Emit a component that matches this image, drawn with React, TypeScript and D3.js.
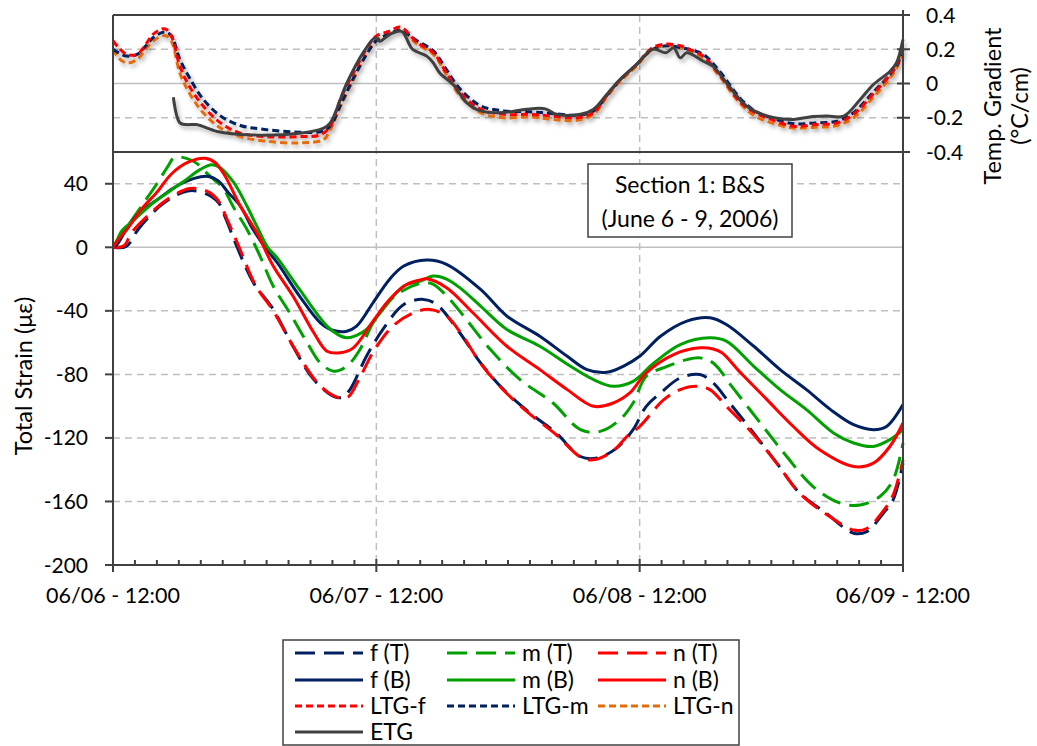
import React, { useEffect, useRef } from 'react';
import * as d3 from 'd3';

// hours after 06/06 12:00, strain (µε)
const fT = [[0,0],[1.2,0.5],[2.3,11.4],[3.5,20.8],[4.7,28.2],[6.8,35.5],[8.4,34],[9.6,28.2],[10.3,17.7],[11.2,2],[12.8,-22.3],[14.6,-39],[16.4,-62.3],[18.3,-83.3],[20.1,-93.8],[20.9,-94.5],[21.6,-89.6],[23.1,-68.6],[24.6,-51.7],[26.5,-36],[28.3,-32.8],[29.5,-36],[31.6,-53.8],[33.5,-72.8],[35.6,-89.6],[38,-104.3],[40.4,-117],[42.6,-131.7],[44.1,-132.7],[45.9,-126.4],[47.4,-114.8],[48.6,-100.1],[49.9,-91.7],[51.7,-82.2],[53.5,-80.1],[54.7,-85.4],[56.2,-98],[58.4,-117],[60.5,-135.9],[62.6,-154.8],[65,-167.4],[67.5,-180],[68.7,-179],[70.2,-167.4],[71.1,-159],[72,-135.9]];
const fB = [[0,0],[0.4,2],[1.4,13.4],[2.6,22.9],[4.1,30.3],[5.6,37.7],[7.4,43.4],[8.7,44.6],[9.6,41.8],[10.5,34.5],[11.6,26],[12.7,12],[13.85,0],[15,-10],[17,-30.7],[18.9,-47.5],[20.1,-52.4],[21.3,-52.8],[22.2,-49.6],[23.7,-34.9],[25.2,-20.2],[26.5,-11.8],[28.6,-8],[30.4,-10.7],[33.5,-26.5],[35.9,-43.3],[38.9,-56],[41.4,-68.6],[43.2,-77],[45,-78.7],[46.5,-74.9],[48,-68.6],[49.9,-56],[52.3,-46.5],[54.4,-44.4],[55.9,-48.6],[58.4,-62.3],[60.8,-77],[63.2,-89.6],[65.4,-102.2],[67.5,-111.7],[69.3,-114.8],[70.5,-112.8],[72,-99]];
const mT = [[0,0],[0.8,8],[1.4,14],[2.6,26],[4,40],[5,51],[5.6,56.6],[6.7,56],[7.6,53],[8.5,47],[9.3,42],[10,37.7],[11,25],[12.2,11.4],[13.4,-5.5],[14.6,-24.4],[16.1,-41.2],[17.7,-60.1],[18.9,-72.8],[20.1,-78],[21.3,-74.9],[22.5,-64.4],[23.7,-47.5],[25,-35],[26.5,-27],[28.3,-22.3],[29.2,-23.3],[30.7,-32.8],[32.2,-45.4],[34.4,-64.4],[37.1,-83.3],[40.1,-98],[42.6,-114.8],[44.4,-115.9],[46.2,-108.5],[47.4,-98],[48.6,-81.2],[50.5,-75],[52.3,-70.7],[53.5,-69.6],[54.7,-72.8],[56.5,-88.5],[59,-110.6],[61.4,-131.7],[63.8,-150.6],[66.3,-161.1],[68.1,-162.2],[69.9,-156.9],[71.1,-146.4],[72,-123.2]];
const mB = [[0,0],[0.4,5],[0.8,10.3],[2,17.7],[3.5,27.1],[5,34.5],[6.5,41.8],[8,49.2],[9,52],[9.8,50],[11,40.8],[12.2,26],[13.2,12],[14.1,0],[15,-7],[17,-26.5],[19.5,-49.6],[20.5,-55],[21.3,-57],[22.2,-55.5],[23.1,-51.7],[24.6,-39.1],[26.5,-24.4],[28,-21.3],[29.2,-18.1],[30.4,-20],[31.6,-25.4],[33.5,-37],[35.9,-51.7],[38.9,-62.3],[41.7,-74.9],[43.8,-83.3],[45.6,-87.5],[47.4,-84.4],[49.3,-72.8],[51.7,-61.2],[54.4,-57],[55.9,-59.1],[58.4,-74.9],[60.8,-89.6],[63.2,-102.2],[65.7,-117],[67.5,-123.2],[69.3,-125.4],[70.8,-121.1],[72,-114.8]];
const nT = [[0,0],[1,1],[1.7,9.3],[3.5,22],[4.9,30],[7,37],[8.5,35.5],[9.5,30.3],[10.5,16],[11.5,0],[13,-24],[14.6,-40],[16.4,-62],[18.6,-85],[20,-93],[21.3,-94.8],[22.5,-82],[23.7,-66],[25.5,-49.6],[27.4,-41.2],[28.9,-39.1],[30.4,-43.3],[31.8,-55],[33.5,-73],[35.6,-90],[38,-105],[40.4,-118],[42.6,-132],[43.8,-133.8],[45.6,-128],[47,-118],[48,-112.8],[50.2,-95.9],[51.7,-89.6],[53.2,-87.5],[54.4,-89.6],[55.9,-100.1],[58.4,-118],[60.5,-136],[62.6,-155],[65,-168],[67.5,-178],[68.7,-177],[70.2,-166],[71.1,-156],[72,-134]];
const nB = [[0,0],[0.5,5],[1.4,12.4],[2.6,24],[4.1,35.5],[5.3,46],[6.8,53.4],[8.4,56],[9.3,53.4],[10.2,45],[11.6,26],[13.1,9.3],[14.6,-11.8],[16.4,-30.7],[18.3,-53.8],[19.5,-65.4],[20.7,-66.4],[21.9,-63.3],[23.7,-46.5],[25.2,-32.8],[26.8,-23.3],[28,-20.5],[28.6,-19.8],[30.4,-25.4],[32.8,-41.2],[35.9,-62.3],[38.9,-77],[41.4,-89.6],[43.8,-100.1],[45.6,-98],[47.1,-91.7],[48.6,-79],[51.1,-67.5],[53.5,-63.3],[54.7,-64],[55.5,-66.4],[57.2,-79],[59.6,-95.9],[62,-112.8],[64.4,-127.5],[67.5,-138],[69.3,-135.9],[70.8,-125.4],[72,-110.6]];

// hours, temperature gradient (°C/cm)
const ltgF = [[0,0.25],[0.5,0.21],[1.25,0.17],[2.2,0.17],[3,0.23],[3.7,0.29],[4.7,0.32],[5.3,0.28],[6.1,0.1],[7,-0.02],[8.2,-0.13],[9.8,-0.23],[11.6,-0.29],[14,-0.31],[17,-0.31],[18.9,-0.3],[19.8,-0.25],[20.7,-0.095],[21.9,0.06],[23.1,0.2],[24,0.277],[25.2,0.305],[26.2,0.33],[27.7,0.24],[29.2,0.18],[30.4,0.06],[31.6,-0.05],[33.5,-0.15],[35.6,-0.18],[38,-0.18],[40,-0.19],[42.3,-0.2],[43.8,-0.17],[45,-0.07],[46.2,0.02],[47.7,0.11],[49.2,0.21],[50.5,0.23],[51.7,0.22],[52.5,0.2],[53.8,0.16],[55.3,0.05],[57.2,-0.11],[58.5,-0.17],[60,-0.21],[62,-0.25],[64,-0.24],[66,-0.23],[67.5,-0.18],[69.3,-0.06],[70.8,0.05],[71.5,0.12],[72,0.22]];
const ltgM = [[0,0.2],[0.5,0.18],[1.25,0.16],[2.2,0.17],[3,0.22],[3.7,0.27],[4.7,0.3],[5.3,0.28],[6.1,0.14],[7,0.03],[8.2,-0.09],[9.8,-0.19],[11.6,-0.245],[13.4,-0.265],[17,-0.285],[19,-0.28],[19.8,-0.25],[20.7,-0.13],[21.9,0.03],[23.1,0.17],[24,0.25],[25.2,0.29],[26.2,0.31],[27.7,0.25],[29.2,0.19],[30.4,0.08],[31.6,-0.03],[33.5,-0.13],[35.6,-0.16],[38,-0.165],[40,-0.175],[42.3,-0.185],[43.8,-0.16],[45,-0.07],[46.2,0.02],[47.7,0.11],[49.2,0.2],[50.5,0.22],[51.7,0.21],[52.5,0.2],[53.8,0.17],[55.3,0.07],[57.2,-0.09],[58.5,-0.16],[60,-0.2],[62,-0.235],[64,-0.23],[66,-0.22],[67.5,-0.17],[69.3,-0.05],[70.8,0.05],[71.5,0.11],[72,0.2]];
const ltgN = [[0,0.2],[0.5,0.15],[1.25,0.12],[2.2,0.14],[3,0.2],[3.7,0.25],[4.7,0.28],[5.3,0.25],[6.1,0.06],[7,-0.06],[8.2,-0.17],[9.8,-0.26],[11.6,-0.31],[14,-0.337],[17,-0.347],[19.2,-0.327],[19.8,-0.27],[20.7,-0.14],[21.9,0.02],[23.1,0.17],[24,0.25],[25.2,0.29],[26.2,0.31],[27.7,0.23],[29.2,0.17],[30.4,0.05],[31.6,-0.07],[33.5,-0.17],[35.6,-0.2],[38,-0.195],[40,-0.21],[42.3,-0.215],[43.8,-0.18],[45,-0.08],[46.2,0.01],[47.7,0.1],[49.2,0.2],[50.5,0.22],[51.7,0.21],[52.5,0.19],[53.8,0.15],[55.3,0.04],[57.2,-0.12],[58.5,-0.19],[60,-0.23],[62,-0.26],[64,-0.255],[66,-0.245],[67.5,-0.2],[69.3,-0.08],[70.8,0.03],[71.5,0.1],[72,0.19]];
const etg = [[5.5,-0.08],[6.1,-0.23],[6.7,-0.24],[7.6,-0.24],[9.5,-0.28],[12.5,-0.3],[17,-0.29],[19.2,-0.26],[19.8,-0.23],[21.3,0],[22.8,0.18],[23.9,0.267],[24.3,0.247],[25.2,0.286],[26.3,0.305],[27.3,0.2],[28.6,0.16],[29.2,0.12],[29.8,0.06],[31,-0.006],[32.2,-0.11],[33.5,-0.16],[35.6,-0.17],[37.7,-0.15],[39.4,-0.148],[40.4,-0.18],[42.6,-0.18],[43.8,-0.15],[45,-0.064],[46.2,0.023],[47.7,0.11],[49.2,0.2],[50.4,0.18],[51.1,0.208],[51.7,0.15],[52.3,0.18],[53.8,0.13],[54.7,0.1],[55.9,0.004],[57.7,-0.13],[59.6,-0.19],[62,-0.21],[63.5,-0.195],[65,-0.19],[66.6,-0.19],[68.1,-0.093],[69.3,-0.006],[70.8,0.07],[71.4,0.12],[72,0.257]];

const xTickLabels = ['06/06 - 12:00', '06/07 - 12:00', '06/08 - 12:00', '06/09 - 12:00'];
const strainTicks = [40, 0, -40, -80, -120, -160, -200];
const gradTicks = [0.4, 0.2, 0, -0.2, -0.4];

const NAVY = '#002060';
const GREEN = '#00A000';
const RED = '#FF0000';
const ORANGE = '#E46C0A';
const GRAY = '#404040';
const FONT = 'Lato, "Liberation Sans", sans-serif';

const strainSeries = [
  { name: 'f (T)', data: fT, color: NAVY, dash: '20,9' },
  { name: 'm (T)', data: mT, color: GREEN, dash: '20,9' },
  { name: 'n (T)', data: nT, color: RED, dash: '20,9' },
  { name: 'f (B)', data: fB, color: NAVY, dash: null },
  { name: 'm (B)', data: mB, color: GREEN, dash: null },
  { name: 'n (B)', data: nB, color: RED, dash: null },
];
const gradSeries = [
  { name: 'LTG-f', data: ltgF, color: RED, dash: '7,4' },
  { name: 'LTG-m', data: ltgM, color: NAVY, dash: '7,4' },
  { name: 'LTG-n', data: ltgN, color: ORANGE, dash: '7,4' },
  { name: 'ETG', data: etg, color: GRAY, dash: null },
];

const App = () => {
  const svgRef = useRef(null);

  useEffect(() => {
    const svg = d3.select(svgRef.current);
    svg.selectAll('*').remove();

    const left = 113, right = 903;
    const topY = 15, midY = 152, bottomY = 565;

    const x = d3.scaleLinear().domain([0, 72]).range([left, right]);
    const y = d3.scaleLinear().domain([-200, 60]).range([bottomY, midY]);
    const yg = d3.scaleLinear().domain([-0.4, 0.4]).range([midY, topY]);

    const defs = svg.append('defs');
    const shadow = defs.append('filter').attr('id', 'shadow')
      .attr('x', '-5%').attr('y', '-20%').attr('width', '110%').attr('height', '140%');
    shadow.append('feDropShadow')
      .attr('dx', 2).attr('dy', 3).attr('stdDeviation', 2)
      .attr('flood-color', '#000').attr('flood-opacity', 0.3);

    // gridlines
    const grid = svg.append('g');
    strainTicks.filter(d => d !== -200).forEach(d => {
      grid.append('line')
        .attr('x1', left).attr('x2', right)
        .attr('y1', y(d)).attr('y2', y(d))
        .attr('stroke', '#BFBFBF').attr('stroke-width', 1.5)
        .attr('stroke-dasharray', d === 0 ? null : '7,5');
    });
    gradTicks.filter(d => Math.abs(d) < 0.3).forEach(d => {
      grid.append('line')
        .attr('x1', left).attr('x2', right)
        .attr('y1', yg(d)).attr('y2', yg(d))
        .attr('stroke', '#BFBFBF').attr('stroke-width', 1.5)
        .attr('stroke-dasharray', d === 0 ? null : '7,5');
    });
    [24, 48].forEach(h => {
      grid.append('line')
        .attr('x1', x(h)).attr('x2', x(h))
        .attr('y1', topY).attr('y2', bottomY)
        .attr('stroke', '#BFBFBF').attr('stroke-width', 1.5)
        .attr('stroke-dasharray', '7,5');
    });

    const line = d3.line()
      .x(d => x(d[0]))
      .y(d => y(d[1]))
      .curve(d3.curveCatmullRom.alpha(0.5));
    const gline = d3.line()
      .x(d => x(d[0]))
      .y(d => yg(d[1]))
      .curve(d3.curveCatmullRom.alpha(0.5));

    // top panel: temperature gradient
    const gTop = svg.append('g').attr('filter', 'url(#shadow)');
    [gradSeries[2], gradSeries[1], gradSeries[0], gradSeries[3]].forEach(s => {
      gTop.append('path')
        .datum(s.data)
        .attr('fill', 'none')
        .attr('stroke', s.color)
        .attr('stroke-width', 3)
        .attr('stroke-dasharray', s.dash)
        .attr('d', gline);
    });

    // main panel: strain
    strainSeries.forEach(s => {
      svg.append('path')
        .datum(s.data)
        .attr('fill', 'none')
        .attr('stroke', s.color)
        .attr('stroke-width', 3)
        .attr('stroke-dasharray', s.dash)
        .attr('d', line);
    });

    // frame and axes
    const ax = svg.append('g').attr('stroke', GRAY).attr('stroke-width', 2);
    ax.append('line').attr('x1', left).attr('x2', right).attr('y1', topY).attr('y2', topY);
    ax.append('line').attr('x1', left).attr('x2', right).attr('y1', midY).attr('y2', midY);
    ax.append('line').attr('x1', left).attr('x2', left).attr('y1', topY).attr('y2', bottomY + 7);
    ax.append('line').attr('x1', right).attr('x2', right).attr('y1', topY - 5).attr('y2', bottomY + 7);
    ax.append('line').attr('x1', left - 8).attr('x2', right).attr('y1', bottomY).attr('y2', bottomY);

    // x ticks
    d3.range(2, 72, 2).forEach(h => {
      const major = h % 24 === 0;
      ax.append('line')
        .attr('x1', x(h)).attr('x2', x(h))
        .attr('y1', bottomY - (major ? 6 : 5)).attr('y2', bottomY + (major ? 7 : 0));
    });
    // left y ticks
    strainTicks.forEach(d => {
      ax.append('line').attr('x1', left - 8).attr('x2', left).attr('y1', y(d)).attr('y2', y(d));
    });
    // right y ticks
    gradTicks.forEach(d => {
      ax.append('line').attr('x1', right - 6).attr('x2', right + 7).attr('y1', yg(d)).attr('y2', yg(d));
    });

    // annotation box
    svg.append('rect')
      .attr('x', 588).attr('y', 164).attr('width', 204).attr('height', 73)
      .attr('fill', '#fff').attr('stroke', GRAY).attr('stroke-width', 1.5);

    // legend box
    svg.append('rect')
      .attr('x', 283).attr('y', 640).attr('width', 456).attr('height', 105)
      .attr('fill', '#fff').attr('stroke', GRAY).attr('stroke-width', 1.5);

    const txt = svg.append('g').attr('font-family', FONT).attr('fill', '#000');

    xTickLabels.forEach((lab, i) => {
      txt.append('text')
        .attr('x', x(i * 24)).attr('y', 603)
        .attr('text-anchor', 'middle')
        .attr('font-size', 21.5)
        .text(lab);
    });
    strainTicks.forEach(d => {
      txt.append('text')
        .attr('x', 88).attr('y', y(d))
        .attr('dy', '0.36em')
        .attr('text-anchor', 'end')
        .attr('font-size', 21)
        .text(d3.format('d')(d).replace('−', '-'));
    });
    gradTicks.forEach(d => {
      txt.append('text')
        .attr('x', 926).attr('y', yg(d))
        .attr('dy', '0.36em')
        .attr('font-size', 21)
        .text(d === 0 ? '0' : d3.format('.1f')(d).replace('−', '-'));
    });

    txt.append('text')
      .attr('transform', 'translate(32,376) rotate(-90)')
      .attr('text-anchor', 'middle')
      .attr('font-size', 23.5)
      .text('Total Strain (με)');

    const rt = txt.append('text')
      .attr('transform', 'translate(1001,106) rotate(-90)')
      .attr('text-anchor', 'middle')
      .attr('font-size', 23.5);
    rt.append('tspan').attr('x', 0).attr('y', 0).text('Temp. Gradient');
    rt.append('tspan').attr('x', 0).attr('y', 27).text('(°C/cm)');

    txt.append('text').attr('x', 690).attr('y', 193).attr('text-anchor', 'middle')
      .attr('font-size', 23).text('Section 1: B&S');
    txt.append('text').attr('x', 690).attr('y', 227).attr('text-anchor', 'middle')
      .attr('font-size', 23).text('(June 6 - 9, 2006)');

    // legend entries
    const items = [...strainSeries, ...gradSeries];
    const colX = [295, 447, 598];
    const rowY = [653, 680, 706, 732];
    items.forEach((s, i) => {
      const cx = colX[i % 3];
      const cy = rowY[Math.floor(i / 3)];
      svg.append('line')
        .attr('x1', cx).attr('x2', cx + 68)
        .attr('y1', cy).attr('y2', cy)
        .attr('stroke', s.color).attr('stroke-width', 3)
        .attr('stroke-dasharray', s.dash);
      txt.append('text')
        .attr('x', cx + 75).attr('y', cy)
        .attr('dy', '0.36em')
        .attr('font-size', 23)
        .text(s.name);
    });
  }, []);

  return (
    <svg
      ref={svgRef}
      width={1037}
      height={746}
      style={{ position: 'absolute', left: 0, top: 0, background: '#fff' }}
    />
  );
};

export default App;
